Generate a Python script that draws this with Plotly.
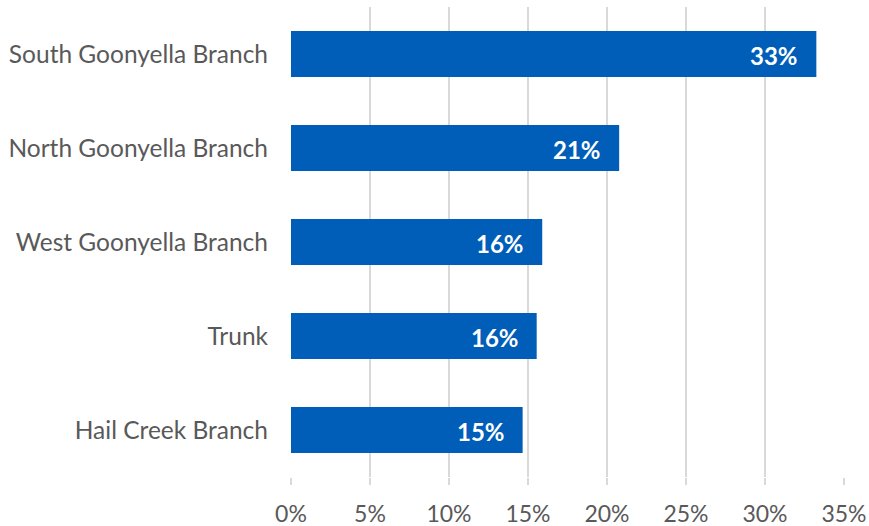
import plotly.graph_objects as go

categories = ["South Goonyella Branch", "North Goonyella Branch", "West Goonyella Branch", "Trunk", "Hail Creek Branch"]
values = [33.25, 20.77, 15.9, 15.55, 14.66]
labels = ["33%", "21%", "16%", "16%", "15%"]
tick_vals = [0, 5, 10, 15, 20, 25, 30, 35]
tick_text = ["0%", "5%", "10%", "15%", "20%", "25%", "30%", "35%"]

fig = go.Figure(go.Bar(
    y=categories, x=values, orientation="h",
    marker=dict(color="#005EB8", line=dict(width=0)),
    width=0.49,
    hoverinfo="skip",
))

for c, v, t in zip(categories, values, labels):
    fig.add_annotation(
        x=v, y=c, text=f"<b>{t}</b>", showarrow=False,
        xanchor="right", yanchor="middle", xshift=-16, yshift=-1,
        font=dict(family="Lato", size=24, color="white"),
    )

fig.update_layout(
    width=869, height=526,
    margin=dict(l=291, r=25, t=7, b=49),
    paper_bgcolor="white", plot_bgcolor="white",
    showlegend=False,
    font=dict(family="Lato", color="#595959"),
)
fig.update_xaxes(
    range=[0, 35], tickvals=tick_vals, ticktext=tick_text,
    showgrid=True, gridcolor="#D9D9D9", gridwidth=1.5,
    zeroline=False, showline=False,
    tickfont=dict(size=23, color="#595959"),
    ticks="outside", ticklen=7, tickcolor="#D9D9D9", tickwidth=1.5,
    ticklabelstandoff=9, automargin=False,
)
fig.update_yaxes(
    categoryorder="array", categoryarray=categories[::-1],
    showgrid=False, zeroline=False,
    tickfont=dict(size=24.5, color="#595959"),
    ticks="", ticklabelstandoff=22, automargin=False,
)

fig.write_html("out.html", config={"displayModeBar": False},
               post_script="document.body.style.margin='0';")
